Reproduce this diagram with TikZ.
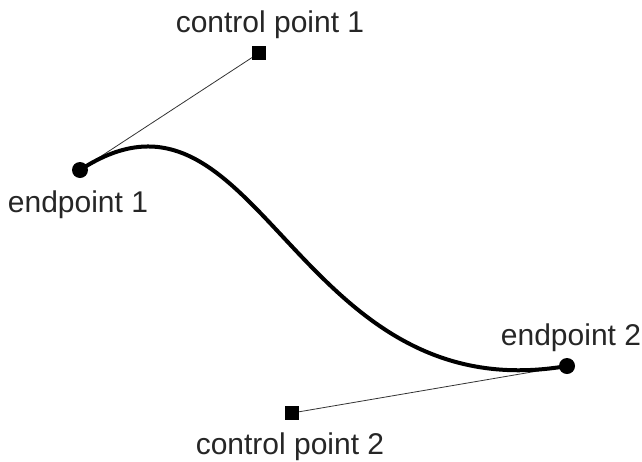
\documentclass[tikz,border=0pt]{standalone}
\usepackage{fontspec}
\setmainfont{Liberation Sans}
\usetikzlibrary{positioning}
\tikzset{
  endpt/.style ={circle, fill=black, minimum size=16pt, inner sep=0pt},
  ctrlpt/.style={rectangle, fill=black, minimum size=14pt, inner sep=0pt},
  lbl/.style   ={font=\fontsize{30}{36}\selectfont, text=black!85, inner sep=0pt, anchor=base},
  handle/.style={draw=black!80, line width=0.8pt},
  curve/.style ={draw=black, line width=4pt},
}
\begin{document}
\begin{tikzpicture}[x=1pt,y=-1pt]
  \useasboundingbox (0,0) rectangle (642,461);
  % points
  \coordinate (epA) at (80,170);
  \coordinate (cpA) at (259,53);
  \coordinate (cpB) at (292,413);
  \coordinate (epB) at (567,366);
  % handles
  \draw[handle] (epA) -- (cpA);
  \draw[handle] (epB) -- (cpB);
  % curve
  \draw[curve] (epA) .. controls (cpA) and (cpB) .. (epB);
  % markers
  \node[endpt]  (epAdot) at (epA) {};
  \node[endpt]  (epBdot) at (epB) {};
  \node[ctrlpt] (cpAsq)  at (cpA) {};
  \node[ctrlpt] (cpBsq)  at (cpB) {};
  % labels
  \node[lbl] (cpAlbl) at (270,32)  {control point 1};
  \node[lbl] (epAlbl) at (78,212)  {endpoint 1};
  \node[lbl] (epBlbl) at (571,345) {endpoint 2};
  \node[lbl] (cpBlbl) at (290,454) {control point 2};
\end{tikzpicture}
\end{document}
